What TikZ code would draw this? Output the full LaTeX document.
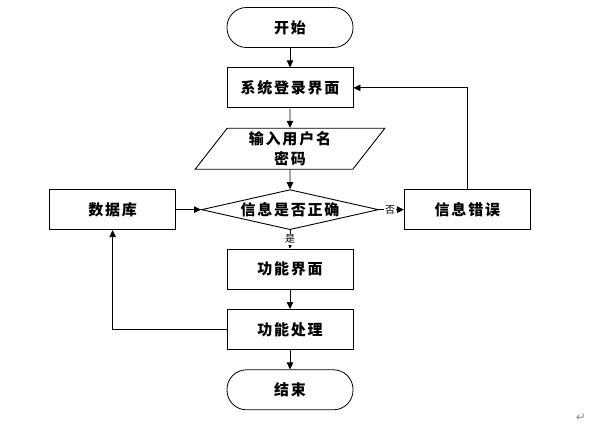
\documentclass[tikz,border=0pt]{standalone}
\usepackage{fontspec}
\usepackage{xcolor}
\usetikzlibrary{shapes.geometric,arrows.meta,positioning}
\newfontfamily\cjk{Noto Sans CJK SC}[LetterSpace=12]
\newfontfamily\cjksmall{Noto Sans CJK SC}
\newfontfamily\symfont{DejaVu Sans}
\definecolor{FlowBlack}{HTML}{000000}
\definecolor{FlowWhite}{HTML}{ffffff}
\definecolor{FlowGray}{HTML}{8a8a8a}
\tikzset{
    % Rounded start and end boxes
    terminal/.style={
        rectangle,
        rounded corners=19.5pt,
        draw=FlowBlack,
        line width=0.8pt,
        fill=FlowWhite,
        minimum width=126pt,
        minimum height=40pt,
        align=center,
        font=\cjk\fontsize{15}{18}\selectfont\bfseries
    },
    % Sharp-cornered boxes
    process/.style={
        terminal,
        rounded corners=0pt,
        line width=0.9pt
    },
    io/.style={
        process,
        trapezium,
        trapezium left angle=58.6,
        trapezium right angle=121.4,
        trapezium stretches=true,
        minimum width=190pt,
        minimum height=41pt,
        inner sep=0pt,
        font=\cjk\fontsize{15}{20}\selectfont\bfseries
    },
    decision/.style={
        process,
        diamond,
        aspect=4.4,
        inner sep=0pt,
        minimum width=177pt,
        minimum height=40pt
    },
    arrow/.style={
        -{Triangle[length=7pt,width=6.5pt]},
        line width=0.8pt,
        color=FlowBlack
    },
    branch label/.style={
        fill=FlowWhite,
        inner sep=1pt,
        font=\cjksmall\fontsize{10}{11}\selectfont
    }
}
\begin{document}
\begin{tikzpicture}[x=1pt, y=1pt, node distance=19.5pt]
        \useasboundingbox (0,0) rectangle (609,-446);

        % Main column
        \node[terminal] (start) at (290,-27.5) {开始};
        \node[process, below=of start] (login) {系统登录界面};
        \node[io, below=of login] (input) {输入用户名\\密码};
        \node[decision, below=of input] (check) {信息是否正确};
        \node[process, below=18.5pt of check] (menu) {功能界面};
        \node[process, below=of menu] (work) {功能处理};
        \node[terminal, below=of work] (stop) {结束};

        % Side boxes
        \node[process, left=25pt of check] (db) {数据库};
        \node[process, right=25pt of check] (fail) {信息错误};

        % Paragraph mark
        \node[font=\symfont\fontsize{12}{12}\selectfont, text=FlowGray] (mark) at (581,-418) {↵};

        % Arrows
        \draw[arrow] (start) -- (login);
        \draw[arrow] (login) -- (input);
        \draw[arrow] (input) -- (check);
        \draw[arrow] (db) -- (check);
        \draw[arrow] (check) -- node[branch label, pos=0.45] {否} (fail);
        \draw[arrow] (fail) |- (login);
        \draw[arrow] (check) -- node[branch label] {是} (menu);
        \draw[arrow] (menu) -- (work);
        \draw[arrow] (work) -- (stop);
        \draw[arrow] (work) -| (db);
    \end{tikzpicture}
\end{document}
